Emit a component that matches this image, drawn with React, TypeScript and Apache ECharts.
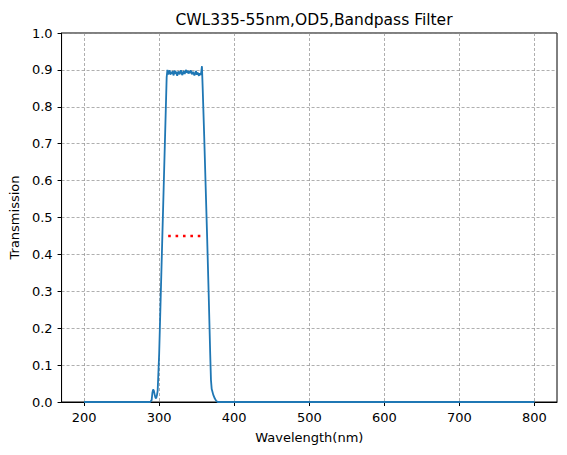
import React, { useEffect, useRef } from "react";
import * as echarts from "echarts";

const TITLE = "CWL335-55nm,OD5,Bandpass Filter";
const X_NAME = "Wavelength(nm)";
const Y_NAME = "Transmission";

const xTicks = [200, 300, 400, 500, 600, 700, 800];

const wavelength = [
  200, 288, 290, 291, 292, 293, 294, 295, 296, 297, 298, 300, 302, 304, 306, 308, 310,
  311, 312, 313, 314, 315, 316, 317, 318, 319, 320, 321, 322, 323, 324, 325, 326, 327, 328, 329,
  330, 331, 332, 333, 334, 335, 336, 337, 338, 339, 340, 341, 342, 343, 344, 345, 346, 347, 348,
  349, 350, 351, 352, 353, 354, 355, 356, 357, 358, 360, 362, 364, 366, 368, 369, 370, 371, 372,
  374, 376, 378, 800,
];
const transmission = [
  0, 0, 0.005, 0.025, 0.034, 0.03, 0.02, 0.012, 0.01, 0.018, 0.03, 0.13, 0.28, 0.43, 0.58, 0.73, 0.88,
  0.9, 0.888, 0.893, 0.899, 0.887, 0.894, 0.89, 0.897, 0.885, 0.892, 0.898, 0.889, 0.895, 0.884, 0.891, 0.896, 0.888, 0.893, 0.899,
  0.89, 0.886, 0.894, 0.897, 0.889, 0.895, 0.9, 0.892, 0.898, 0.89, 0.896, 0.891, 0.899, 0.893, 0.888, 0.895, 0.89, 0.885, 0.892,
  0.897, 0.887, 0.893, 0.889, 0.884, 0.891, 0.886, 0.893, 0.91, 0.85, 0.72, 0.58, 0.44, 0.29, 0.13, 0.06, 0.035, 0.028, 0.02,
  0.01, 0.003, 0, 0,
];

const fwhmX = [312, 356];
const fwhmY = [0.45, 0.45];

export default function App() {
  const ref = useRef<HTMLDivElement>(null);
  useEffect(() => {
    if (!ref.current) return;
    const chart = echarts.init(ref.current, null, { renderer: "svg" });
    const font = "DejaVu Sans";
    const gridLine = { show: true, lineStyle: { color: "#8c8c8c", width: 0.7, type: [3, 2] as any } };
    chart.setOption({
      animation: false,
      backgroundColor: "#ffffff",
      title: {
        text: TITLE,
        left: 309,
        top: 7,
        textAlign: "center",
        textStyle: { fontFamily: font, fontSize: 15.5, fontWeight: "normal", color: "#000" },
      },
      grid: {
        left: 61,
        right: 10,
        top: 33,
        bottom: 53,
        show: true,
        borderColor: "#000",
        borderWidth: 1,
        containLabel: false,
      },
      xAxis: {
        type: "value",
        min: 170,
        max: 830,
        name: X_NAME,
        nameLocation: "middle",
        nameGap: 29,
        nameTextStyle: { fontFamily: font, fontSize: 13, color: "#000" },
        axisLine: { show: true, onZero: false, lineStyle: { color: "#000", width: 1 } },
        axisTick: { show: true, length: 4, inside: false, customValues: xTicks, lineStyle: { color: "#000" } },
        axisLabel: { customValues: xTicks, margin: 9, fontFamily: font, fontSize: 13, color: "#000" },
        splitLine: gridLine,
      },
      yAxis: {
        type: "value",
        min: 0,
        max: 1,
        interval: 0.1,
        name: Y_NAME,
        nameLocation: "middle",
        nameGap: 37,
        nameTextStyle: { fontFamily: font, fontSize: 13, color: "#000" },
        axisLine: { show: true, lineStyle: { color: "#000", width: 1 } },
        axisTick: { show: true, length: 4, inside: false, lineStyle: { color: "#000" } },
        axisLabel: {
          margin: 9,
          fontFamily: font,
          fontSize: 13,
          color: "#000",
          formatter: (v: number) => v.toFixed(1),
        },
        splitLine: gridLine,
      },
      series: [
        {
          type: "line",
          data: wavelength.map((x, i) => [x, transmission[i]]),
          showSymbol: false,
          symbol: "none",
          lineStyle: { color: "#1f77b4", width: 1.8 },
          z: 3,
        },
        {
          type: "line",
          data: fwhmX.map((x, i) => [x, fwhmY[i]]),
          showSymbol: false,
          symbol: "none",
          lineStyle: { color: "#ff0000", width: 2.6, type: [2.6, 4.8] as any },
          z: 4,
        },
      ],
    });
    return () => chart.dispose();
  }, []);
  return (
    <div
      ref={ref}
      style={{ position: "fixed", left: 0, top: 0, width: 567, height: 455, background: "#fff" }}
    />
  );
}
